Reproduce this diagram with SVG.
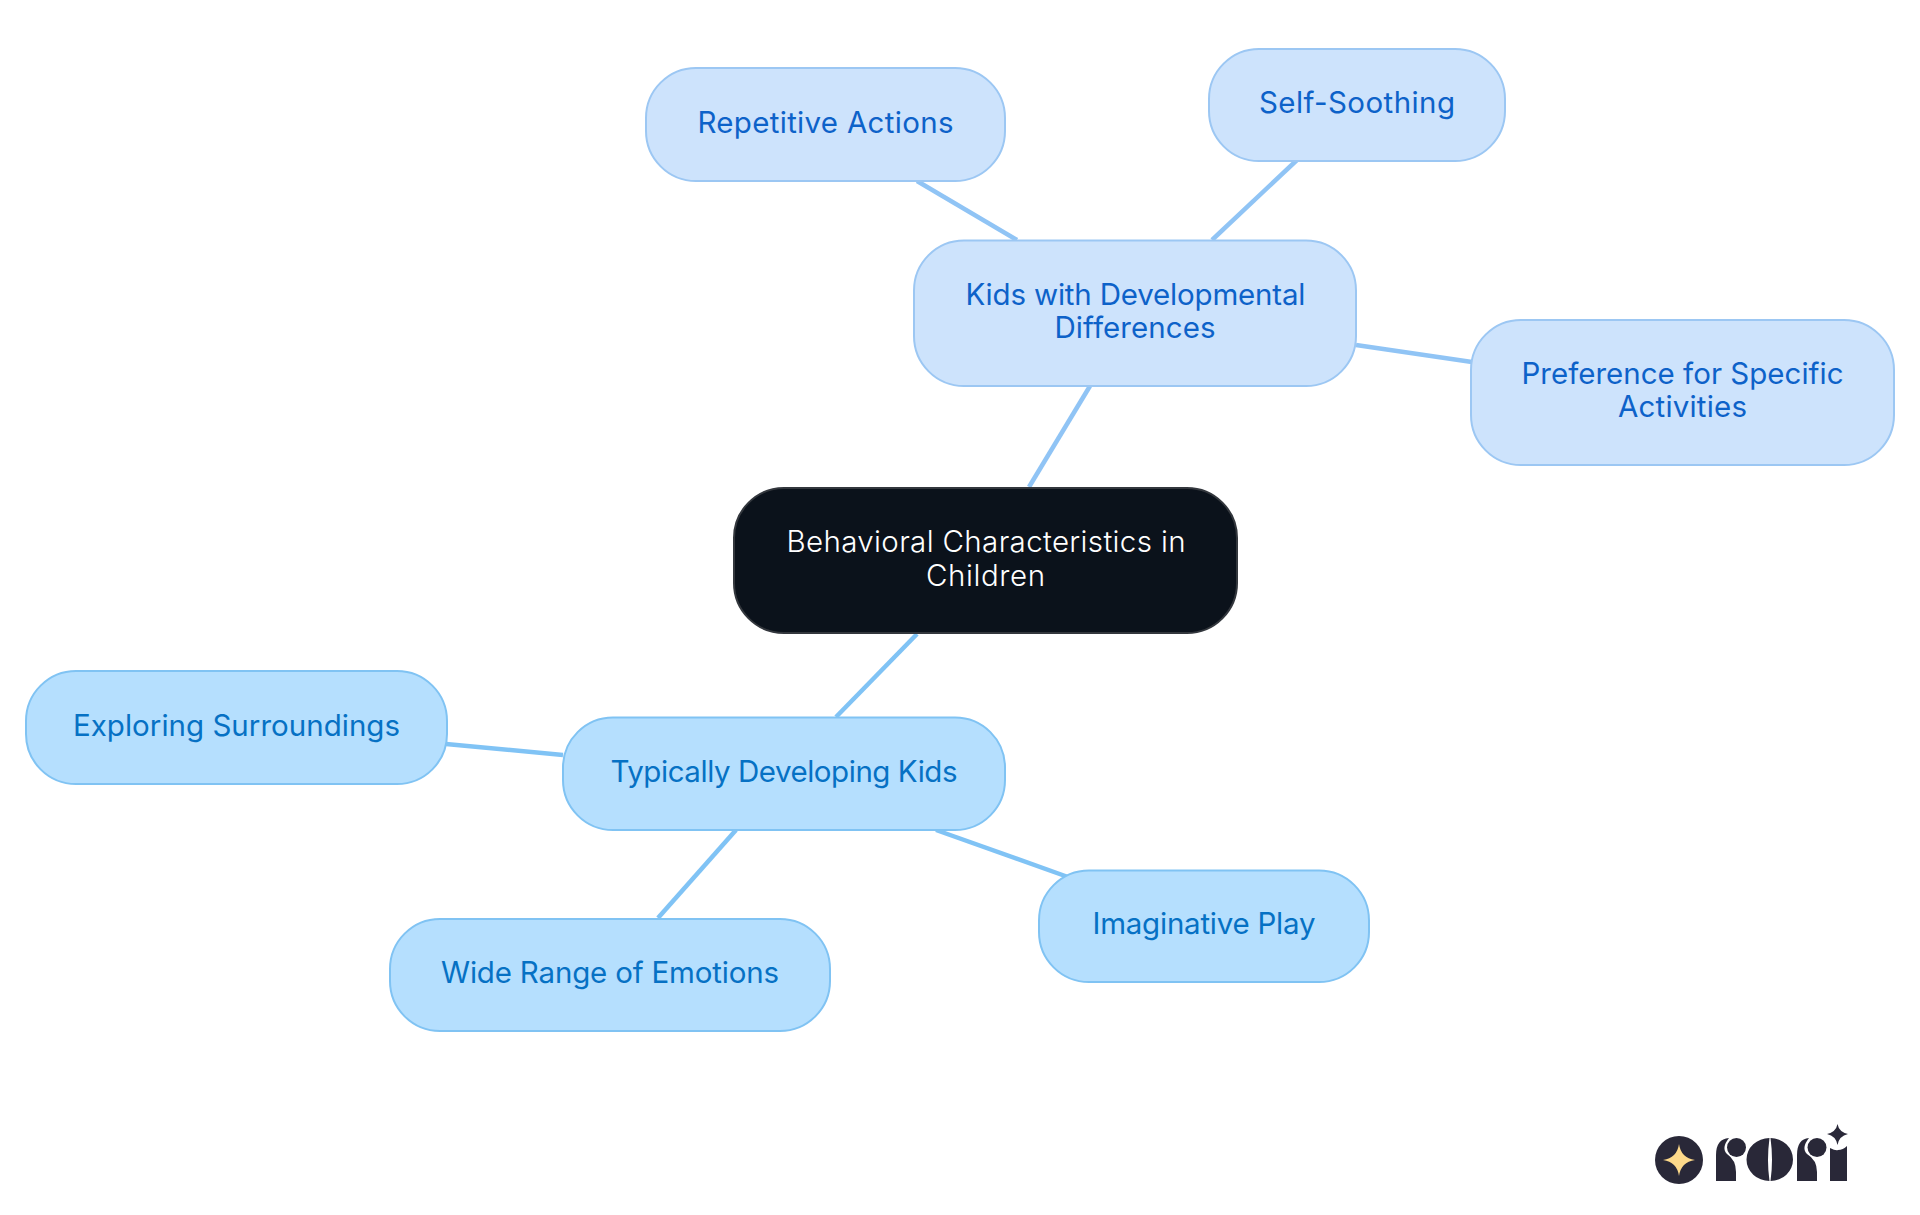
<svg xmlns="http://www.w3.org/2000/svg" width="1920" height="1215" viewBox="0 0 1920 1215">
<style>
text{font-family:Inter,"Noto Sans","Liberation Sans",sans-serif;font-size:29.5px;font-weight:400;text-anchor:middle}
.c{stroke-width:4.5;fill:none;stroke-linecap:butt}
.a{stroke:#90c4f5}.b{stroke:#80c3f5}
.na rect{fill:#cde3fc;stroke:#9cc7f3;stroke-width:2}
.na text{fill:#0d62c9}
.nb rect{fill:#b5dffe;stroke:#80c3f3;stroke-width:2}
.nb text{fill:#0671c4}
#root rect{fill:#0b121b;stroke:#33373d;stroke-width:2}
#root text{fill:#fff;font-weight:350}
.logo{fill:#292838}
</style>
<rect width="1920" height="1215" fill="#fff"/>
<g id="connectors">
<path class="c a" d="M1029 487L1090 386"/>
<path class="c a" d="M1017 240L917 181"/>
<path class="c a" d="M1212 240L1297 160"/>
<path class="c a" d="M1356 345L1472 362"/>
<path class="c b" d="M917 634L836 717"/>
<path class="c b" d="M563 755L446 744"/>
<path class="c b" d="M736 830L658 918"/>
<path class="c b" d="M936 830L1068 877"/>
</g>
<g id="root"><rect x="734" y="488" width="503" height="145" rx="50"/><text x="986" y="551.500" textLength="399">Behavioral Characteristics in</text><text x="985.500" y="585.500" textLength="119">Children</text></g>
<g id="kids" class="na"><rect x="914" y="240.500" width="442" height="145.500" rx="50"/><text x="1135.500" y="305" textLength="340">Kids with Developmental</text><text x="1135" y="337.500" textLength="161">Differences</text></g>
<g id="repetitive" class="na"><rect x="646" y="68" width="359" height="113" rx="50"/><text x="825.500" y="132.500" textLength="256">Repetitive Actions</text></g>
<g id="soothing" class="na"><rect x="1209" y="49" width="296" height="112" rx="50"/><text x="1357" y="112.500" textLength="196">Self-Soothing</text></g>
<g id="preference" class="na"><rect x="1471" y="320" width="423" height="145" rx="50"/><text x="1682.500" y="383.500" textLength="322">Preference for Specific</text><text x="1682.500" y="416.500" textLength="129">Activities</text></g>
<g id="typical" class="nb"><rect x="563" y="717.500" width="442" height="112.500" rx="50"/><text x="784" y="781.500" textLength="347">Typically Developing Kids</text></g>
<g id="exploring" class="nb"><rect x="26" y="671" width="421" height="113" rx="50"/><text x="236.500" y="735.500" textLength="327">Exploring Surroundings</text></g>
<g id="emotions" class="nb"><rect x="390" y="919" width="440" height="112" rx="50"/><text x="610" y="982.500" textLength="338">Wide Range of Emotions</text></g>
<g id="imaginative" class="nb"><rect x="1039" y="870.500" width="330" height="111.500" rx="50"/><text x="1204" y="933.500" textLength="223">Imaginative Play</text></g>
<g id="logo">
<circle cx="1679" cy="1160" r="24" class="logo"/>
<path d="M1679 1144Q1681 1158 1695 1160Q1681 1162 1679 1176Q1677 1162 1663 1160Q1677 1158 1679 1144Z" fill="#fdd98a"/>
<path class="logo" d="M1716 1181V1155Q1716 1139 1729 1138Q1721 1148 1727 1154Q1736 1160 1736 1172V1181Z"/>
<circle class="logo" cx="1736.500" cy="1147.500" r="9.500"/>
<path class="logo" d="M1769.500 1138A23 21.500 0 0 0 1769.500 1181Q1766.500 1160 1769.500 1138Z"/>
<path class="logo" d="M1770.500 1138A22.500 21.500 0 0 1 1770.500 1181Q1773.500 1160 1770.500 1138Z"/>
<path class="logo" d="M1797 1181V1155Q1797 1139 1809 1138Q1801 1148 1807 1154Q1817 1160 1817 1172V1181Z"/>
<circle class="logo" cx="1817" cy="1147.500" r="9.500"/>
<path class="logo" d="M1830 1181V1148Q1836 1151 1838 1150Q1843 1150 1847 1146V1181Z"/>
<path class="logo" d="M1837.500 1124Q1839 1132 1848 1134Q1839 1136 1837.500 1145Q1836 1136 1827 1134Q1836 1132 1837.500 1124Z"/>
</g>
</svg>
